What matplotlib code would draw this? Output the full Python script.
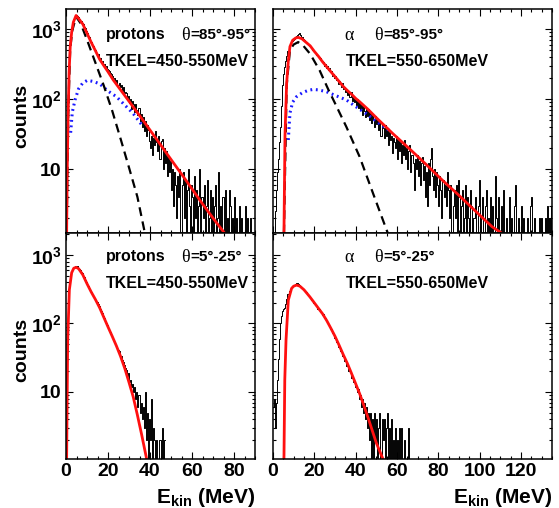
import numpy as np
import matplotlib
matplotlib.use("Agg")
import matplotlib.pyplot as plt
from matplotlib.ticker import FixedLocator, FixedFormatter, LogLocator, MultipleLocator, NullFormatter

plt.rcParams['font.family'] = ['Liberation Sans', 'DejaVu Sans']
plt.rcParams['font.weight'] = 'bold'
plt.rcParams['mathtext.fontset'] = 'custom'
plt.rcParams['mathtext.rm'] = 'Liberation Sans:bold'
plt.rcParams['mathtext.bf'] = 'Liberation Sans:bold'
plt.rcParams['mathtext.it'] = 'Liberation Sans:italic:bold'

# ---------------- data (0.5 MeV bins) ----------------
bin_width = 0.5

tl_counts = [4, 35, 160, 420, 700, 950, 1180, 1380, 1500, 1580,
             1530, 1470, 1400, 1310, 1290, 1200, 1170, 1070, 1020, 930,
             870, 790, 760, 680, 650, 590, 570, 510, 500, 440,
             440, 385, 380, 345, 345, 320, 320, 290, 300, 265,
             262, 250, 232, 225, 212, 190, 200, 172, 185, 160,
             170, 148, 160, 130, 150, 122, 128, 120, 104, 112,
             88, 100, 72, 94, 84, 65, 86, 70, 60, 75,
             48, 62, 40, 55, 35, 48, 30, 42, 36, 25,
             20, 30, 16, 28, 22, 35, 24, 18, 30, 14,
             25, 27, 10, 20, 12, 18, 8, 15, 9, 13,
             5, 10, 3, 9, 6, 2, 8, 4, 10, 1,
             6, 9, 2, 7, 0, 5, 10, 3, 0, 6,
             4, 0, 8, 2, 5, 0, 3, 10, 0, 4,
             2, 6, 0, 3, 7, 0, 2, 5, 0, 4,
             0, 3, 6, 0, 2, 9, 0, 3, 0, 4,
             0, 5, 0, 2, 0, 5, 3, 0, 2, 0,
             4, 0, 2, 0, 0, 3, 0, 2, 0, 0,
             3, 0, 2, 0, 0, 2, 0, 0, 1, 0]
tl_fit_e = [0.3, 0.6, 1.0, 1.5, 2.0, 2.7, 3.5, 4.8, 6, 8, 10, 12, 14, 16, 18, 20,
            22.5, 25, 28, 32, 36, 40, 44, 48, 52, 56, 60, 64, 68, 72, 75.2]
tl_fit = [1.2, 10, 60, 250, 550, 900, 1250, 1560, 1410, 1175, 870, 645, 490, 370, 300, 245,
          187, 148, 112, 77, 53, 36, 24.5, 16.6, 11.3, 7.7, 5.2, 3.5, 2.4, 1.66, 1.25]
tl_dash_e = [0.3, 1.0, 2.0, 3.0, 4.8, 7, 10, 14, 18, 22, 26, 30, 34, 37.6]
tl_dash = [1.2, 55, 520, 950, 1500, 1200, 700, 330, 155, 68, 27, 10.5, 4, 1.2]
tl_dot_e = [2.2, 3, 4.3, 6, 8, 10.2, 13, 16, 20, 24, 28, 32, 36.8]
tl_dot = [33, 65, 97, 140, 170, 185, 178, 165, 130, 108, 82, 62, 40]

tr_counts = [0, 1, 2.5, 5, 9, 14, 24, 40, 80, 160,
             230, 290, 350, 410, 480, 560, 630, 660, 680, 700,
             730, 760, 790, 820, 850, 880, 810, 780, 760, 720,
             700, 660, 650, 620, 600, 580, 560, 530, 500, 490,
             470, 450, 430, 420, 395, 390, 350, 345, 335, 300,
             320, 280, 300, 260, 275, 240, 250, 215, 225, 200,
             215, 185, 195, 165, 180, 170, 150, 168, 140, 150,
             125, 140, 115, 130, 108, 125, 95, 112, 90, 105,
             82, 100, 75, 92, 70, 85, 60, 82, 68, 55,
             75, 58, 72, 50, 64, 45, 60, 52, 40, 58,
             44, 50, 36, 47, 30, 44, 38, 28, 42, 30,
             36, 22, 34, 26, 30, 17, 28, 24, 20, 30,
             14, 26, 18, 24, 12, 22, 16, 26, 14, 20,
             10, 18, 22, 9, 16, 12, 5, 14, 10, 16,
             8, 13, 6, 12, 15, 7, 11, 4, 9, 3,
             12, 6, 14, 20, 8, 5, 10, 4, 9, 6,
             3, 8, 5, 2, 7, 4, 6, 3, 9, 5,
             2, 6, 0, 0, 3, 5, 2, 6, 0, 7,
             4, 0, 3, 5, 0, 2, 6, 0, 4, 2,
             0, 5, 3, 0, 2, 4, 0, 0, 3, 7,
             0, 2, 4, 0, 0, 3, 5, 0, 2, 0,
             4, 0, 3, 0, 0, 8, 2, 0, 4, 0,
             0, 3, 0, 5, 0, 2, 0, 0, 4, 0,
             2, 0, 0, 3, 6, 0, 0, 2, 0, 0,
             3, 0, 2, 0, 0, 0, 2, 0, 0, 3,
             4, 0, 0, 2, 0, 0, 0, 2, 0, 2,
             0, 0, 0, 2, 0, 3, 0, 2, 0, 3]
tr_fit_e = [5.3, 5.8, 6.6, 7.4, 8.2, 9.5, 11, 12.2, 14, 16, 18, 20, 22, 24, 26, 28, 30,
            32, 34, 36, 38, 40, 42, 46, 50, 58, 66, 74, 82, 90, 98, 106, 110]
tr_fit = [1.2, 30, 167, 350, 560, 690, 745, 760, 725, 645, 575, 479, 407, 339, 288, 245, 209,
          178, 151, 132, 117, 102, 91, 71, 54, 32, 19.5, 11.7, 6.9, 4.2, 2.5, 1.5, 1.25]
tr_dash_e = [5.3, 6.6, 8.2, 10, 12.2, 14.6, 18, 22.6, 26.7, 30, 35.5, 41.9, 48.4, 55.6]
tr_dash = [1.2, 155, 500, 600, 650, 580, 440, 255, 138, 87, 40, 15, 4.5, 1.2]
tr_dot_e = [7.4, 8.2, 9.5, 11.4, 14, 17, 19.4, 22, 25.9, 30, 35.5, 40, 45, 50, 56]
tr_dot = [26, 63, 90, 108, 122, 133, 137, 135, 127, 113, 97, 78, 62, 48, 36]

bl_counts = [3, 50, 200, 360, 470, 560, 610, 650, 670, 690,
             680, 650, 620, 600, 560, 540, 500, 470, 430, 400,
             370, 350, 320, 300, 285, 265, 250, 235, 220, 205,
             190, 178, 165, 152, 140, 130, 120, 110, 102, 94,
             86, 80, 74, 68, 63, 57, 53, 49, 46, 41,
             39, 34, 33, 29, 27, 25, 22, 21, 17, 19,
             14, 15, 12, 13, 10, 12, 8, 10, 6, 9,
             5, 7, 4, 6, 3, 10, 2, 5, 0, 4,
             2, 8, 0, 3, 2, 0, 2, 0, 0, 2,
             0, 3, 0, 2]
bl_fit_e = [0.3, 0.8, 1.6, 2.7, 3.7, 4.8, 6, 8, 10, 12, 14, 16, 18, 20, 22, 24, 26, 28,
            30, 32, 34, 36, 38.4]
bl_fit = [1.05, 57, 310, 550, 640, 660, 630, 513, 380, 288, 224, 170, 123, 89, 65, 47, 33, 22,
          13.8, 8.5, 4.6, 2.4, 1.05]

br_counts = [6, 8, 3, 7, 15, 30, 60, 100, 130, 150,
             160, 170, 190, 230, 265, 295, 315, 335, 345, 355,
             365, 380, 390, 395, 375, 365, 355, 340, 330, 315,
             310, 295, 285, 268, 260, 245, 238, 222, 215, 200,
             198, 185, 178, 165, 162, 150, 146, 135, 136, 122,
             120, 108, 105, 96, 92, 84, 82, 72, 70, 62,
             62, 54, 52, 46, 46, 40, 38, 34, 33, 28,
             28, 24, 24, 20, 20, 16, 17, 14, 14, 12,
             12, 10, 11, 8, 9, 6, 8, 5, 7, 4,
             6, 3, 5, 2, 5, 0, 4, 0, 5, 2,
             4, 0, 3, 5, 0, 4, 2, 4, 0, 3,
             5, 0, 3, 0, 4, 0, 2, 0, 3, 0,
             2, 0, 3, 0, 3, 0, 0, 2, 0, 0,
             0, 3, 0]
br_fit_e = [5.3, 5.7, 6.3, 7.4, 9, 10, 11.4, 13, 15, 17.8, 20, 22, 24, 26, 28, 30, 32, 34,
            36, 38, 40, 42, 44, 46, 48, 50, 53.2]
br_fit = [1.05, 15, 57, 218, 325, 350, 363, 350, 310, 245, 200, 166, 138, 110, 85, 65, 48, 35,
          26, 18.6, 13.2, 9.3, 6.3, 4.2, 2.75, 1.8, 1.05]

x_ticks_p = [0, 20, 40, 60, 80]
x_ticks_a = [0, 20, 40, 60, 80, 100, 120]
y_ticks = [10, 100, 1000]
y_labels = ['10', r'$\mathbf{10^{2}}$', r'$\mathbf{10^{3}}$']

# ---------------- layout ----------------
W, H = 559, 508
fig = plt.figure(figsize=(W / 100, H / 100), dpi=100)


def rect(x0, y0, x1, y1):
    return [x0 / W, 1 - y1 / H, (x1 - x0) / W, (y1 - y0) / H]


def px(x, y):
    return x / W, 1 - y / H


ax_tl = fig.add_axes(rect(66, 9, 255, 233))
ax_tr = fig.add_axes(rect(273, 9, 552, 233))
ax_bl = fig.add_axes(rect(66, 233, 255, 459))
ax_br = fig.add_axes(rect(273, 233, 552, 459))


def style(ax, xmax, xticks, ylim, xlab, ylab):
    ax.set_yscale('log')
    ax.set_xlim(0, xmax)
    ax.set_ylim(*ylim)
    ax.xaxis.set_major_locator(FixedLocator(xticks))
    ax.xaxis.set_minor_locator(MultipleLocator(5))
    ax.yaxis.set_major_locator(FixedLocator(y_ticks))
    ax.yaxis.set_minor_locator(LogLocator(base=10, subs=np.arange(2, 10)))
    ax.yaxis.set_minor_formatter(NullFormatter())
    if ylab:
        ax.yaxis.set_major_formatter(FixedFormatter(y_labels))
    else:
        ax.yaxis.set_major_formatter(NullFormatter())
    if xlab:
        ax.xaxis.set_major_formatter(FixedFormatter([str(t) for t in xticks]))
    else:
        ax.xaxis.set_major_formatter(NullFormatter())
    ax.tick_params(which='both', direction='in', top=True, right=True, width=0.8,
                   labelsize=14, colors='black')
    ax.tick_params(which='major', length=5)
    ax.tick_params(which='minor', length=2.5)
    ax.tick_params(axis='y', pad=3)
    ax.tick_params(axis='x', pad=3)
    for s in ax.spines.values():
        s.set_linewidth(1.1)
    for lab in ax.get_xticklabels() + ax.get_yticklabels():
        lab.set_fontweight('bold')


def hist(ax, counts):
    c = np.asarray(counts, dtype=float)
    edges = np.arange(len(c) + 1) * bin_width
    y = np.where(c > 0, c, 0.01)
    ax.step(edges, np.append(y, y[-1]), where='post', color='black', lw=0.7)


top_ylim = (1.22, 1930)
bot_ylim = (1.05, 2090)

style(ax_tl, 90, x_ticks_p, top_ylim, False, True)
style(ax_tr, 135, x_ticks_a, top_ylim, False, False)
style(ax_bl, 90, x_ticks_p, bot_ylim, True, True)
style(ax_br, 135, x_ticks_a, bot_ylim, True, False)

for ax, cnt in [(ax_tl, tl_counts), (ax_tr, tr_counts), (ax_bl, bl_counts), (ax_br, br_counts)]:
    hist(ax, cnt)

ax_tl.plot(tl_dot_e, tl_dot, color='#1a1aff', lw=2.2, ls=(0, (0.6, 1.2)), dash_capstyle='butt')
ax_tl.plot(tl_dash_e, tl_dash, color='black', lw=1.6, ls=(0, (4, 2.5)))
ax_tl.plot(tl_fit_e, tl_fit, color='#ff1010', lw=2.0)

ax_tr.plot(tr_dot_e, tr_dot, color='#1a1aff', lw=2.2, ls=(0, (0.6, 1.2)), dash_capstyle='butt')
ax_tr.plot(tr_dash_e, tr_dash, color='black', lw=1.6, ls=(0, (4, 2.5)))
ax_tr.plot(tr_fit_e, tr_fit, color='#ff1010', lw=2.0)

ax_bl.plot(bl_fit_e, bl_fit, color='#ff1010', lw=2.0)
ax_br.plot(br_fit_e, br_fit, color='#ff1010', lw=2.0)

# ---------------- texts ----------------
tsz = 11.5
greek = dict(family=['Liberation Serif', 'DejaVu Serif'], weight='normal', size=13,
             va='center', ha='left')
bold = dict(weight='bold', size=tsz, va='center', ha='left')
deg = dict(weight='bold', size=11, va='center', ha='left')

fig.text(*px(106, 35), 'protons', **bold)
fig.text(*px(181, 35), 'θ', **greek)
fig.text(*px(190, 35), '=85°-95°', **deg)
fig.text(*px(106, 61), 'TKEL=450-550MeV', **bold)

fig.text(*px(344, 35), 'α', **greek)
fig.text(*px(374, 35), 'θ', **greek)
fig.text(*px(383, 35), '=85°-95°', **deg)
fig.text(*px(346, 61), 'TKEL=550-650MeV', **bold)

fig.text(*px(106, 257), 'protons', **bold)
fig.text(*px(181, 257), 'θ', **greek)
fig.text(*px(190, 257), '=5°-25°', **deg)
fig.text(*px(106, 283), 'TKEL=450-550MeV', **bold)

fig.text(*px(344, 257), 'α', **greek)
fig.text(*px(374, 257), 'θ', **greek)
fig.text(*px(383, 257), '=5°-25°', **deg)
fig.text(*px(346, 283), 'TKEL=550-650MeV', **bold)

fig.text(*px(22, 116), 'counts', rotation=90, ha='center', va='center', size=14, weight='bold')
fig.text(*px(22, 350), 'counts', rotation=90, ha='center', va='center', size=14, weight='bold')

fig.text(*px(255, 503), r'$\mathbf{E_{kin}}$ (MeV)', ha='right', va='baseline', size=15, weight='bold')
fig.text(*px(552, 503), r'$\mathbf{E_{kin}}$ (MeV)', ha='right', va='baseline', size=15, weight='bold')

fig.savefig('out.png', dpi=100)
